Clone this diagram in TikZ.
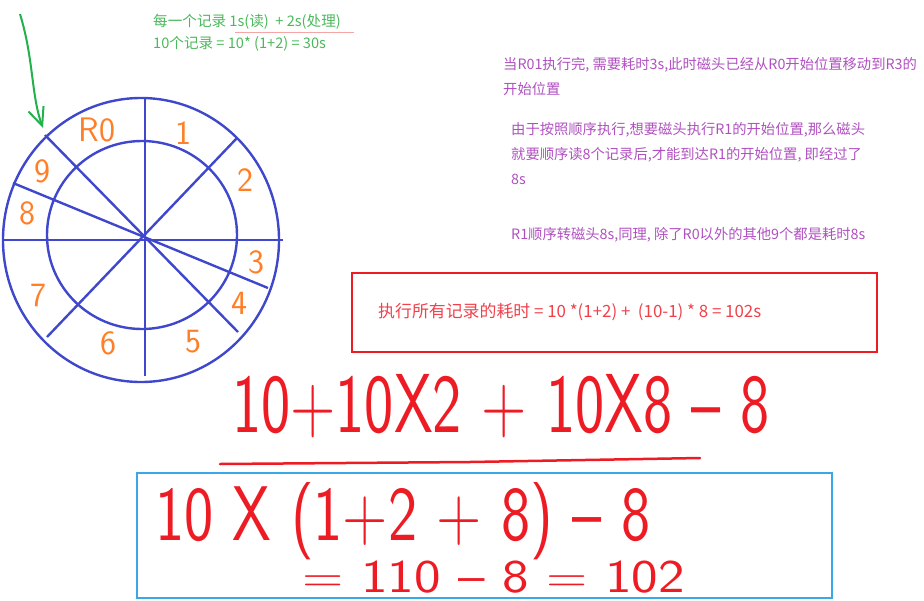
\documentclass[tikz,border=0pt]{standalone}
\usepackage{fontspec}
\usepackage{graphicx}
\usepackage{xcolor}
\usepackage{tikz}
\usetikzlibrary{arrows.meta, positioning}
\newfontfamily\cjk{Noto Sans CJK SC}
\definecolor{wheelblue}{HTML}{3F48CC}
\definecolor{recorange}{HTML}{FF7F27}
\definecolor{arrowgreen}{HTML}{22B14C}
\definecolor{notegreen}{HTML}{4CB85C}
\definecolor{notepink}{HTML}{F4A6A6}
\definecolor{notepurple}{HTML}{B050C0}
\definecolor{boxred}{HTML}{ED1C24}
\definecolor{textred}{HTML}{F0414B}
\definecolor{inkred}{HTML}{ED1C24}
\definecolor{boxblue}{HTML}{3AA8E6}
\newcommand{\tall}[2]{\scalebox{1}[#1]{#2}}
\tikzset{
    wheel/.style={draw=wheelblue, line width=2.4pt},
    recno/.style={text=recorange, font=\sffamily\fontsize{34}{34}\selectfont, inner sep=0pt},
    greennote/.style={text=notegreen, font=\cjk\fontsize{14.6}{22}\selectfont,
    align=left, anchor=north west, inner sep=0pt},
    purplenote/.style={text=notepurple, font=\cjk\fontsize{14.3}{25}\selectfont,
    align=left, anchor=north west, inner sep=0pt},
    redbox/.style={rectangle, draw=boxred, line width=2pt, minimum width=525pt, minimum height=79pt},
    redtext/.style={text=textred, font=\cjk\fontsize{16.9}{16.9}\selectfont, anchor=west, inner sep=0pt},
    hand/.style={text=inkred, font=\sffamily\fontsize{62}{62}\selectfont, anchor=base west, inner sep=0pt},
    bluebox/.style={rectangle, draw=boxblue, line width=2pt, minimum width=695pt, minimum height=125pt},
    penline/.style={draw=inkred, line width=2.5pt, line cap=round},
    pointer/.style={draw=arrowgreen, line width=2pt, -{Straight Barb[length=18pt, width=16pt]}},
}
\begin{document}
\begin{tikzpicture}[x=1pt, y=-1pt]
\useasboundingbox (0,0) rectangle (924,600);

% =========================================================
% LEFT — disk with ten records
% =========================================================

        \coordinate (disk) at (145,240);
        \draw[wheel] (141,240) ellipse [x radius=138pt, y radius=142pt];
        \draw[wheel] (142,235) ellipse [x radius=95pt, y radius=94pt];

        \draw[wheel] (4,240) -- (283,240);
        \draw[wheel] (145,98) -- (145,376);
        \draw[wheel] (45,135) -- (238,332);
        \draw[wheel] (237,138) -- (47,337);
        \draw[wheel] (13,183) -- (268,288);

        \node[recno] (r0) at (97,130)  {R0};
        \node[recno] (r1) at (183,133) {1};
        \node[recno] (r2) at (245,180) {2};
        \node[recno] (r3) at (256,262) {3};
        \node[recno] (r4) at (239,303) {4};
        \node[recno] (r5) at (193,342) {5};
        \node[recno] (r6) at (108,343) {6};
        \node[recno] (r7) at (38,295)  {7};
        \node[recno] (r8) at (27,213)  {8};
        \node[recno] (r9) at (42,171)  {9};

% head pointing at the start of R0
        \coordinate (pen) at (20,14);
        \coordinate (firstrec) at (43,128);
        \draw[pointer] (pen) .. controls (34,60) and (31,95) .. (firstrec);

% =========================================================
% NOTES — green and purple
% =========================================================

        \node[greennote] (readtime) at (153,14)
            {每一个记录 1s(读)~ + 2s(处理)\\10个记录 = 10* (1+2) = 30s};
        \draw[notepink, line width=1pt] (235,32) -- (354,32);

        \node[purplenote] (note1) at (503,57)
            {当R01执行完, 需要耗时3s,此时磁头已经从R0开始位置移动到R3的\\开始位置};
        \node[purplenote] (note2) at (511,122)
            {由于按照顺序执行,想要磁头执行R1的开始位置,那么磁头\\就要顺序读8个记录后,才能到达R1的开始位置, 即经过了\\8s};
        \node[purplenote] (note3) at (511,227)
            {R1顺序转磁头8s,同理, 除了R0以外的其他9个都是耗时8s};

% =========================================================
% RESULT — red box and handwritten sums
% =========================================================

        \node[redbox] (totalbox) at (614.5,312.5) {};
        \node[redtext, right=27pt of totalbox.west] (total)
            {执行所有记录的耗时 = 10 *(1+2) +~ (10-1) * 8 = 102s};

        \node[hand] (sum1) at (232,432) {\tall{1.35}{10+10X2 + 10X8 – 8}};
        \draw[penline] (220,464) -- (470,462) -- (700,458);

        \node[bluebox] (handbox) at (484.5,535) {};
        \node[hand] (sum2) at (155,540) {\tall{1.25}{10 X (1+2 + 8) – 8}};
        \node[hand, font=\sffamily\fontsize{47}{47}\selectfont] (sum3) at (302,592)
            {\scalebox{1.2}[1]{= 110 – 8 = 102}};

\end{tikzpicture}
\end{document}
